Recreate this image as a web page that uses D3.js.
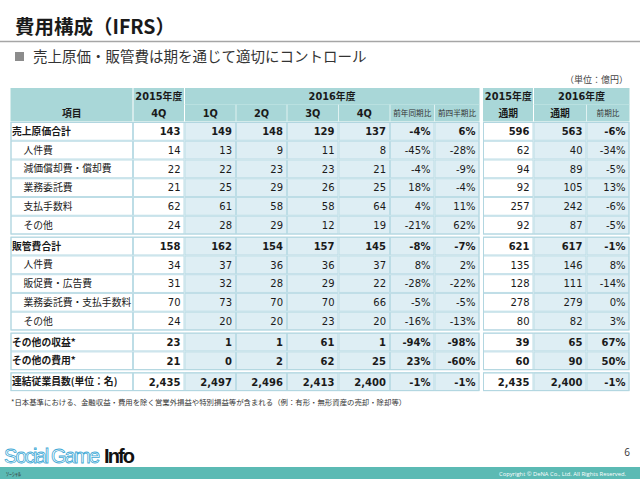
<!DOCTYPE html>
<html><head><meta charset="utf-8">
<script src="https://cdn.jsdelivr.net/npm/d3@7"></script>
<style>
html,body{margin:0;padding:0;background:#fff;}
svg{display:block;}
</style></head>
<body>
<svg id="c" width="640" height="479"></svg>
<script>
// ---------------- data ----------------
const items = ["売上原価合計","人件費","減価償却費・償却費","業務委託費","支払手数料","その他",
  "販管費合計","人件費","販促費・広告費","業務委託費・支払手数料","その他",
  "その他の収益*","その他の費用*","連結従業員数(単位：名)"];
const isSubItem = [false,true,true,true,true,true,false,true,true,true,true,false,false,false];
const groupOf   = [0,0,0,0,0,0,1,1,1,1,1,2,2,3];
const q4_2015 = [143,14,22,21,62,24,158,34,31,70,24,23,21,2435];
const q1_2016 = [149,13,22,25,61,28,162,37,32,73,20,1,0,2497];
const q2_2016 = [148,9,23,29,58,29,154,36,28,70,20,1,2,2496];
const q3_2016 = [129,11,23,26,58,12,157,36,29,70,23,61,62,2413];
const q4_2016 = [137,8,21,25,64,19,145,37,22,66,20,1,25,2400];
const yoyPct  = [-4,-45,-4,18,4,-21,-8,8,-28,-5,-16,-94,23,-1];
const qoqPct  = [6,-28,-9,-4,11,62,-7,2,-22,-5,-13,-98,-60,-1];
const fy2015  = [596,62,94,92,257,92,621,135,128,278,80,39,60,2435];
const fy2016  = [563,40,89,105,242,87,617,146,111,279,82,65,90,2400];
const fyPct   = [-6,-34,-5,13,-6,-5,-1,8,-14,0,3,67,50,-1];
const headTop = ["2015年度","2016年度","2015年度","2016年度"];
const headCols = ["項目","4Q","1Q","2Q","3Q","4Q","前年同期比","前四半期比","通期","通期","前期比"];

// ---------------- layout ----------------
const svg = d3.select("#c");
const JP = "'Noto Sans CJK JP','Noto Sans',sans-serif";
const NUM = "'DejaVu Sans','Noto Sans CJK JP',sans-serif";
const headFill = "#a9d7d8", lightFill = "#deeef4", borderCol = "#bddde6";

const colKeys = ["label","q4_2015","q1","q2","q3","q4","yoy","qoq","fy2015","fy2016","fyPct"];
const colLeft  = [10.5,133,184.5,236,287,338.5,390,434.5,483,533.5,586.5];
const colRight = [133,184.5,236,287,338.5,390,434.5,479.5,533.5,586.5,629.5];
const xL = d3.scaleOrdinal().domain(colKeys).range(colLeft);
const xR = d3.scaleOrdinal().domain(colKeys).range(colRight);
const shaded = new Set(["q1","q2","q3","q4","yoy","qoq","fy2016","fyPct"]);

const rowH = 18.75, dataTop = 122, groupGap = 2.2;
const yBand = d3.scaleBand().domain(d3.range(items.length))
  .range([dataTop, dataTop + rowH*items.length]).padding(0);
const yRow = i => yBand(i) + groupOf[i]*groupGap;

const fmtInt = d3.format(",");
const fmtPct = v => v + "%";
const colValues = {
  q4_2015: q4_2015.map(fmtInt), q1: q1_2016.map(fmtInt), q2: q2_2016.map(fmtInt),
  q3: q3_2016.map(fmtInt), q4: q4_2016.map(fmtInt), yoy: yoyPct.map(fmtPct),
  qoq: qoqPct.map(fmtPct), fy2015: fy2015.map(fmtInt), fy2016: fy2016.map(fmtInt),
  fyPct: fyPct.map(fmtPct)
};

// ---------------- title ----------------
svg.append("text").attr("x",15).attr("y",34).attr("font-family",JP).attr("font-weight","bold")
  .attr("font-size",19.5).attr("fill","#1a1a1a").text("費用構成（IFRS）");
svg.append("line").attr("x1",0).attr("x2",640).attr("y1",41.5).attr("y2",41.5)
  .attr("stroke","#a6a6a6").attr("stroke-width",1.5);
svg.append("rect").attr("x",15).attr("y",52).attr("width",9).attr("height",9).attr("fill","#8c8c8c");
svg.append("text").attr("x",33).attr("y",62).attr("font-family",JP).attr("font-size",14.5)
  .attr("fill","#333").text("売上原価・販管費は期を通じて適切にコントロール");
svg.append("text").attr("x",628).attr("y",83).attr("text-anchor","end").attr("font-family",JP)
  .attr("font-size",9).attr("fill","#444").text("（単位：億円）");

// ---------------- header ----------------
const hTop = 88, hMid = 104.5, hBot = 121.5;
const hg = svg.append("g");
hg.append("rect").attr("x",colLeft[0]).attr("y",hTop).attr("width",colRight[7]-colLeft[0])
  .attr("height",hBot-hTop).attr("fill",headFill);
hg.append("rect").attr("x",colLeft[8]).attr("y",hTop).attr("width",colRight[10]-colLeft[8])
  .attr("height",hBot-hTop).attr("fill",headFill);
const sepFull = [133,184.5,533.5];
sepFull.forEach(x=>hg.append("line").attr("x1",x).attr("x2",x).attr("y1",hTop).attr("y2",hBot)
  .attr("stroke","#fff").attr("stroke-width",1));
[236,287,338.5,390,434.5,586.5].forEach(x=>hg.append("line").attr("x1",x).attr("x2",x)
  .attr("y1",hMid).attr("y2",hBot).attr("stroke","#eef8f8").attr("stroke-width",0.8));
[[184.5,479.5],[533.5,629.5]].forEach(([a,b])=>hg.append("line").attr("x1",a).attr("x2",b)
  .attr("y1",hMid).attr("y2",hMid).attr("stroke","#c4e6e6").attr("stroke-width",0.6));
const topSpans = [[133,184.5],[184.5,479.5],[483,533.5],[533.5,629.5]];
topSpans.forEach((s,i)=>hg.append("text").attr("x",(s[0]+s[1])/2).attr("y",100)
  .attr("text-anchor","middle").attr("font-family",NUM).attr("font-weight","bold")
  .attr("font-size",9.8).attr("fill","#1a1a1a").text(headTop[i]));
colKeys.forEach((k,i)=>{
  const small = headCols[i].length>=3 && i>0;
  hg.append("text").attr("x",(xL(k)+xR(k))/2).attr("y",small?116:117)
    .attr("text-anchor","middle").attr("font-family",small?JP:NUM)
    .attr("font-weight",small?"normal":"bold").attr("font-size",small?7.6:9.8)
    .attr("fill",small?"#333":"#1a1a1a").text(headCols[i]);
});

// ---------------- body ----------------
const body = svg.append("g");
items.forEach((name,i)=>{
  const y = yRow(i);
  const bold = !isSubItem[i];
  colKeys.forEach(k=>{
    body.append("rect").attr("x",xL(k)+0.5).attr("y",y+0.5).attr("width",xR(k)-xL(k)-1)
      .attr("height",rowH-1).attr("fill",shaded.has(k)?lightFill:"#fff")
      .attr("stroke",borderCol).attr("stroke-width",1);
    if(k==="label"){
      body.append("text").attr("x",xL(k)+(isSubItem[i]?13:1.5)).attr("y",y+rowH/2+3.6)
        .attr("font-family",JP).attr("font-weight",bold?"bold":"normal")
        .attr("font-size",9.8).attr("fill","#1a1a1a").text(name);
    } else {
      body.append("text").attr("x",xR(k)-4).attr("y",y+rowH/2+3.8).attr("text-anchor","end")
        .attr("font-family",NUM).attr("font-weight",bold?"bold":"normal")
        .attr("font-size",10).attr("fill","#1a1a1a").text(colValues[k][i]);
    }
  });
});
d3.range(4).forEach(g=>{
  const idx = d3.range(items.length).filter(i=>groupOf[i]===g);
  const y0 = yRow(idx[0]), y1 = yRow(idx[idx.length-1])+rowH;
  [[colLeft[0],colRight[7]],[colLeft[8],colRight[10]]].forEach(([a,b])=>
    body.append("rect").attr("x",a+0.5).attr("y",y0+0.5).attr("width",b-a-1).attr("height",y1-y0-1)
      .attr("fill","none").attr("stroke","#b2d6e0").attr("stroke-width",1));
});

// footnote
svg.append("text").attr("x",11).attr("y",405).attr("font-family",JP).attr("font-size",7.4)
  .attr("fill","#333").text("*日本基準における、金融収益・費用を除く営業外損益や特別損益等が含まれる（例：有形・無形資産の売却・除却等）");

// ---------------- footer ----------------
svg.append("rect").attr("x",0).attr("y",467).attr("width",640).attr("height",12).attr("fill","#5bbab4");
svg.append("text").attr("x",626).attr("y",475.5).attr("text-anchor","end").attr("font-family","'Open Sans',sans-serif")
  .attr("font-size",5.8).attr("fill","#fff").text("Copyright © DeNA Co., Ltd. All Rights Reserved.");
svg.append("text").attr("x",630).attr("y",456).attr("text-anchor","end").attr("font-family","'Open Sans',sans-serif")
  .attr("font-size",10).attr("fill","#333").text("6");
svg.append("text").attr("x",4).attr("y",463).attr("font-family","'Liberation Sans',sans-serif")
  .attr("font-size",20).attr("fill","#fff").attr("stroke","#3fa9d6").attr("stroke-width",0.8)
  .attr("textLength",96).text("Social Game");
svg.append("text").attr("x",104).attr("y",463).attr("font-family","'Liberation Sans',sans-serif")
  .attr("font-weight","bold").attr("font-size",20).attr("fill","#111")
  .attr("textLength",31).text("Info");
svg.append("text").attr("x",6).attr("y",476).attr("font-family",JP).attr("font-size",6)
  .attr("fill","#333").text("ｿｰｼｬﾙ");
</script>
</body></html>
